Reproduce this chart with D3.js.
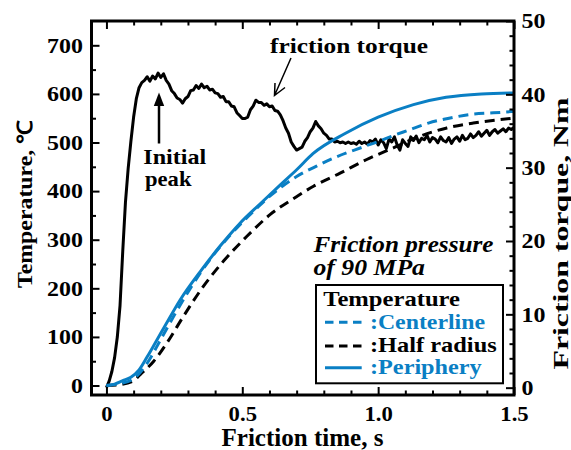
<!DOCTYPE html>
<html><head><meta charset="utf-8">
<script src="https://cdn.jsdelivr.net/npm/d3@7/dist/d3.min.js"></script>
<style>
body{margin:0;background:#fff}
text{font-family:"Liberation Serif","Times New Roman",serif;font-weight:bold}
</style></head><body>
<svg id="c" width="571" height="450"></svg>
<script>
// ---------- data ----------
const xMajorTicks = [0, 0.5, 1.0, 1.5];
const xTickLabels = ["0", "0.5", "1.0", "1.5"];
const xMinorTicks = [0.1,0.2,0.3,0.4,0.6,0.7,0.8,0.9,1.1,1.2,1.3,1.4];
const tempTicks = [0,100,200,300,400,500,600,700];
const tempMinorTicks = [50,150,250,350,450,550,650];
const torqueTicks = [0,10,20,30,40,50];
const torqueMinorTicks = [2,4,6,8,12,14,16,18,22,24,26,28,32,34,36,38,42,44,46,48];

const peripheryTime = [0,0.03,0.06,0.09,0.12,0.15,0.18,0.22,0.27,0.35,0.42,0.49,0.57,0.64,0.70,0.76,0.88,1.0,1.13,1.25,1.38,1.5];
const peripheryTemp = [0,3,10,17,32,59,88,127,175,238,288,333,376,413,444,477,519,552,578,593,600,602];

const centerTime = [0,0.05,0.1,0.15,0.2,0.25,0.3,0.35,0.4,0.45,0.5,0.55,0.6,0.65,0.7,0.775,0.84,0.94,1.0,1.05,1.11,1.185,1.27,1.344,1.424,1.5];
const centerTemp = [0,4,14,46,95,145,192,235,273,306,336,363,389,411,430,452,469,490,502,513,525,540,551,558,561,564];

const halfTime = [0,0.05,0.1,0.125,0.174,0.223,0.284,0.358,0.431,0.517,0.603,0.701,0.762,0.86,0.958,1.056,1.154,1.253,1.35,1.449,1.5];
const halfTemp = [0,2,10,23,50,88,143,205,256,307,352,389,410,437,465,489,513,530,540,547,550];

const torqueTime = [0,0.01,0.02,0.03,0.04,0.05,0.06,0.07,0.08,0.09,0.10,0.11,0.12,0.13,0.14,0.15,0.16,0.17,0.18,0.19,0.20,0.21,0.22,0.23,0.24,0.25,0.26,0.27,0.28,0.29,0.30,0.31,0.32,0.33,0.34,0.35,0.36,0.37,0.38,0.39,0.40,0.41,0.42,0.43,0.44,0.45,0.46,0.47,0.48,0.49,0.50,0.51,0.52,0.53,0.54,0.55,0.56,0.57,0.58,0.59,0.60,0.61,0.62,0.63,0.64,0.65,0.66,0.67,0.68,0.69,0.70,0.71,0.72,0.73,0.74,0.75,0.76,0.77,0.78,0.79,0.80,0.81,0.82,0.83,0.84,0.85,0.86,0.87,0.88,0.89,0.90,0.91,0.92,0.93,0.94,0.95,0.96,0.97,0.98,0.99,1.00,1.01,1.02,1.03,1.04,1.05,1.06,1.07,1.08,1.09,1.10,1.11,1.12,1.13,1.14,1.15,1.16,1.17,1.18,1.19,1.20,1.21,1.22,1.23,1.24,1.25,1.26,1.27,1.28,1.29,1.30,1.31,1.32,1.33,1.34,1.35,1.36,1.37,1.38,1.39,1.40,1.41,1.42,1.43,1.44,1.45,1.46,1.47,1.48,1.49,1.50];
const torqueValue = [0,0.9,2.2,4.1,6.9,11.2,18.6,25.3,29.9,33.6,36.9,39.4,40.9,
  41.6,41.9,42.4,41.8,42.5,42.1,42.9,42.3,42.8,41.9,41.4,40.5,40.1,39.5,39.3,38.8,39.4,39.7,40.5,40.6,41.2,40.8,41.4,40.9,41.1,40.6,40.7,40.2,40.1,39.6,39.7,39.0,39.0,38.4,38.3,37.5,37.1,36.7,36.7,36.9,37.9,38.4,39.2,38.9,38.9,38.5,38.7,38.3,38.4,37.8,37.7,37.2,
  36.4,35.4,34.7,33.5,32.9,32.4,32.6,32.8,33.6,34.1,34.9,35.4,36.3,35.7,35.3,34.7,34.4,33.9,33.9,33.5,33.6,33.4,33.5,33.3,33.5,33.3,33.4,33.2,33.6,33.3,33.5,33.2,33.7,
  33.5,33.9,33.1,33.8,33.4,32.6,33.9,33.5,34.2,33.1,32.4,33.8,33.3,32.9,34.2,33.7,34.3,33.4,34.0,33.8,34.4,33.5,34.1,33.9,33.4,34.2,33.7,33.5,34.1,33.3,33.9,34.2,33.6,34.4,33.8,34.0,34.6,34.1,34.4,34.9,34.3,34.7,35.1,34.4,34.9,35.2,34.7,35.0,35.3,34.9,35.4,35.2,35.5];

const legendLabels = ["Temperature", ":Centerline", ":Half radius", ":Periphery"];

// ---------- drawing ----------
const blue = "#0a7fc4";
const svg = d3.select("#c");
const x = d3.scaleLinear().domain([-0.055, 1.5]).range([91.5, 514]);
const yT = d3.scaleLinear().domain([-19.5, 750]).range([395, 21]);
const yQ = d3.scaleLinear().domain([-1, 50]).range([395, 21]);

function stretch(sel, f) {
  sel.each(function(){
    const L = this.getComputedTextLength();
    d3.select(this).attr("textLength", L * f).attr("lengthAdjust", "spacingAndGlyphs");
  });
}
function fix(sel, len) { return sel.attr("textLength", len).attr("lengthAdjust", "spacingAndGlyphs"); }

// lines
const zipped = (a, b) => a.map((t, i) => [t, b[i]]);
const g = svg.append("g");
g.append("path").datum(zipped(torqueTime, torqueValue))
  .attr("fill", "none").attr("stroke", "#000").attr("stroke-width", 3).attr("stroke-linejoin", "round")
  .attr("d", d3.line().x(d => x(d[0])).y(d => yQ(d[1])));
const tl = d3.line().curve(d3.curveMonotoneX).x(d => x(d[0])).y(d => yT(d[1]));
g.append("path").datum(zipped(halfTime, halfTemp))
  .attr("fill", "none").attr("stroke", "#000").attr("stroke-width", 3).attr("stroke-dasharray", "10,6").attr("d", tl);
g.append("path").datum(zipped(centerTime, centerTemp))
  .attr("fill", "none").attr("stroke", blue).attr("stroke-width", 3).attr("stroke-dasharray", "10,6").attr("d", tl);
g.append("path").datum(zipped(peripheryTime, peripheryTemp))
  .attr("fill", "none").attr("stroke", blue).attr("stroke-width", 3).attr("d", tl);

// axes
function styleAxis(a) {
  a.select(".domain").remove();
  a.selectAll("line").attr("stroke", "#000").attr("stroke-width", 2);
  a.selectAll("text").attr("font-size", 21).attr("fill", "#000")
    .attr("font-family", "Liberation Serif, Times New Roman, serif").attr("font-weight", "bold");
}
let a;
a = svg.append("g").attr("transform", "translate(0,395)")
  .call(d3.axisBottom(x).tickValues(xMajorTicks).tickFormat((d, i) => xTickLabels[i]).tickSize(-8).tickPadding(11.5));
styleAxis(a); stretch(a.selectAll("text"), 1.08);
a = svg.append("g").attr("transform", "translate(0,395)")
  .call(d3.axisBottom(x).tickValues(xMinorTicks).tickFormat("").tickSize(-4.5));
styleAxis(a);
a = svg.append("g").attr("transform", "translate(0,21)")
  .call(d3.axisTop(x).tickValues(xMajorTicks).tickFormat("").tickSize(-8));
styleAxis(a);
a = svg.append("g").attr("transform", "translate(0,21)")
  .call(d3.axisTop(x).tickValues(xMinorTicks).tickFormat("").tickSize(-4.5));
styleAxis(a);
a = svg.append("g").attr("transform", "translate(91.5,0)")
  .call(d3.axisLeft(yT).tickValues(tempTicks).tickSize(-8).tickPadding(8.5));
styleAxis(a); stretch(a.selectAll("text"), 1.14);
a = svg.append("g").attr("transform", "translate(91.5,0)")
  .call(d3.axisLeft(yT).tickValues(tempMinorTicks).tickFormat("").tickSize(-4.5));
styleAxis(a);
a = svg.append("g").attr("transform", "translate(514,0)")
  .call(d3.axisRight(yQ).tickValues(torqueTicks).tickSize(-8).tickPadding(7.5));
styleAxis(a); stretch(a.selectAll("text"), 1.14);
a = svg.append("g").attr("transform", "translate(514,0)")
  .call(d3.axisRight(yQ).tickValues(torqueMinorTicks).tickFormat("").tickSize(-4.5));
styleAxis(a);

// frame
svg.append("rect").attr("x", 91.5).attr("y", 21).attr("width", 422.5).attr("height", 374)
  .attr("fill", "none").attr("stroke", "#000").attr("stroke-width", 3);

// axis titles
fix(svg.append("text").attr("x", 302.5).attr("y", 446).attr("text-anchor", "middle")
  .attr("font-size", 25).text("Friction time, s"), 162);
fix(svg.append("text").attr("transform", "translate(32,204) rotate(-90)").attr("text-anchor", "middle")
  .attr("font-size", 21).text("Temperature, ℃"), 168);
fix(svg.append("text").attr("transform", "translate(567.5,233.5) rotate(-90)").attr("text-anchor", "middle")
  .attr("font-size", 22).text("Friction torque, Nm"), 272);

// annotations
fix(svg.append("text").attr("x", 270).attr("y", 53).attr("font-size", 22).text("friction torque"), 158);
svg.append("path").attr("d", "M291,58 L274.5,95.5 M275,83 L274.5,95.5 L285,87.5")
  .attr("fill", "none").attr("stroke", "#000").attr("stroke-width", 1.5);
fix(svg.append("text").attr("x", 143.3).attr("y", 163.5).attr("font-size", 22).text("Initial"), 63);
fix(svg.append("text").attr("x", 145).attr("y", 186).attr("font-size", 22).text("peak"), 46.5);
svg.append("line").attr("x1", 159).attr("y1", 143.5).attr("x2", 159).attr("y2", 104)
  .attr("stroke", "#000").attr("stroke-width", 2.5);
svg.append("path").attr("d", "M159,92.5 L153.8,106 L164.2,106 Z").attr("fill", "#000");

fix(svg.append("text").attr("x", 313.5).attr("y", 252).attr("font-size", 23).attr("font-style", "italic")
  .text("Friction pressure"), 180);
fix(svg.append("text").attr("x", 313.5).attr("y", 275).attr("font-size", 23).attr("font-style", "italic")
  .text("of 90 MPa"), 111.5);

// legend
svg.append("rect").attr("x", 316).attr("y", 285).attr("width", 187).attr("height", 98.3)
  .attr("fill", "#fff").attr("stroke", "#000").attr("stroke-width", 2);
fix(svg.append("text").attr("x", 323.3).attr("y", 306).attr("font-size", 21).text(legendLabels[0]), 136.7);
const legRows = [
  {label: legendLabels[1], color: blue, dash: "8.5,5.5", y: 322.3, ty: 329.3, len: 115},
  {label: legendLabels[2], color: "#000", dash: "8.5,5.5", y: 346, ty: 351.7, len: 126.7},
  {label: legendLabels[3], color: blue, dash: null, y: 367.7, ty: 373.5, len: 111.7}
];
legRows.forEach(r => {
  svg.append("line").attr("x1", 325).attr("x2", 361.7).attr("y1", r.y).attr("y2", r.y)
    .attr("stroke", r.color).attr("stroke-width", 3).attr("stroke-dasharray", r.dash);
  fix(svg.append("text").attr("x", 370).attr("y", r.ty).attr("font-size", 21).attr("fill", r.color).text(r.label), r.len);
});
</script>
</body></html>
